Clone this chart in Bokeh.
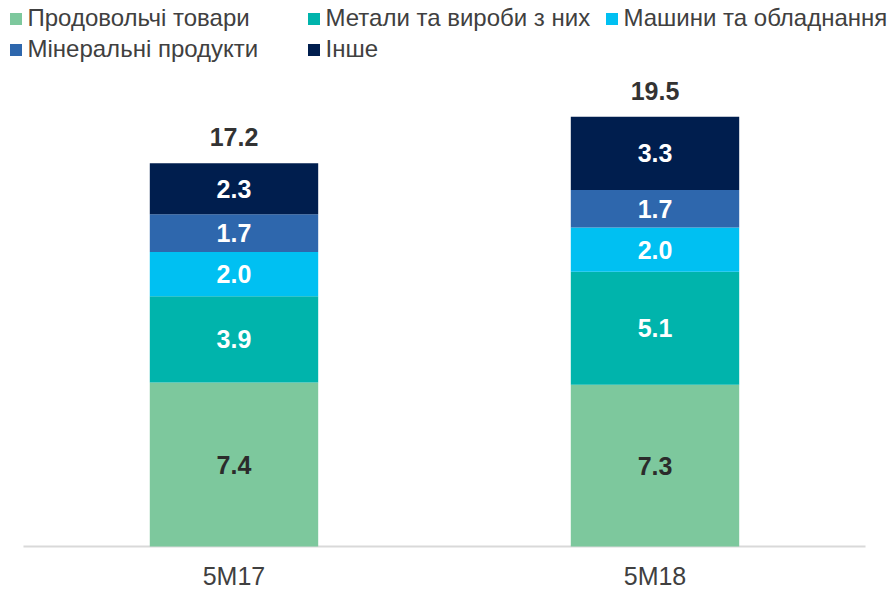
from bokeh.plotting import figure
from bokeh.models import ColumnDataSource, FactorRange, Range1d, Legend, LegendItem
from bokeh.core.properties import value
from bokeh.embed import file_html
from bokeh.resources import INLINE

categories = ["5M17", "5M18"]
series_names = ["Продовольчі товари", "Метали та вироби з них", "Машини та обладнання",
                "Мінеральні продукти", "Інше"]
food = [7.4, 7.3]
metals = [3.9, 5.1]
machines = [2.0, 2.0]
minerals = [1.7, 1.7]
other = [2.3, 3.3]
totals = [17.2, 19.5]

colors = ["#7DC89D", "#00B4AC", "#00C0F2", "#2E67AD", "#001E4E"]
label_colors = ["#2B2B2B", "#FFFFFF", "#FFFFFF", "#FFFFFF", "#FFFFFF"]
keys = ["food", "metals", "machines", "minerals", "other"]
series = [food, metals, machines, minerals, other]

FONT = "Liberation Sans"

data = dict(cat=categories)
for k, s in zip(keys, series):
    data[k] = s
source = ColumnDataSource(data)

p = figure(x_range=FactorRange(factors=categories, range_padding=0.0546,
                               range_padding_units="absolute"),
           y_range=Range1d(-1.986, 24.65),
           width=888, height=590, output_backend="svg", toolbar_location=None,
           min_border_left=0, min_border_right=0, min_border_top=0, min_border_bottom=0)
p.outline_line_color = None
p.grid.grid_line_color = None
p.yaxis.visible = False
p.background_fill_color = None
p.border_fill_color = "white"

# baseline under the bars, spanning the category band
base_src = ColumnDataSource(dict(x0=[(categories[0], -0.5)], x1=[(categories[-1], 0.5)],
                                 y0=[0], y1=[0]))
p.segment(x0="x0", y0="y0", x1="x1", y1="y1", source=base_src,
          line_color="#D9D9D9", line_width=2)

renderers = p.vbar_stack(keys, x="cat", width=0.4, color=colors, line_color=None, source=source)

# segment labels
lx, ly, lt, lc = [], [], [], []
for i, c in enumerate(categories):
    base = 0.0
    for j, s in enumerate(series):
        lx.append(c)
        ly.append(base + s[i] / 2)
        lt.append(f"{s[i]:.1f}")
        lc.append(label_colors[j])
        base += s[i]
lab_src = ColumnDataSource(dict(x=lx, y=ly, t=lt, c=lc))
p.text(x="x", y="y", text="t", text_color="c", source=lab_src,
       text_font=value(FONT), text_font_style="bold", text_font_size="25px",
       text_align="center", text_baseline="middle")

# totals above the bars
tops = [sum(s[i] for s in series) for i in range(len(categories))]
tot_src = ColumnDataSource(dict(x=categories, y=tops, t=[f"{t:.1f}" for t in totals]))
p.text(x="x", y="y", text="t", source=tot_src, text_color="#333333",
       text_font=value(FONT), text_font_style="bold", text_font_size="25px",
       text_align="center", text_baseline="middle", y_offset=-26)

xa = p.xaxis[0]
xa.fixed_location = 0
xa.axis_line_color = None
xa.major_tick_line_color = None
xa.minor_tick_line_color = None
xa.major_tick_out = 0
xa.major_tick_in = 0
xa.major_label_text_font = FONT
xa.major_label_text_font_size = "25px"
xa.major_label_text_color = "#404040"
xa.major_label_standoff = 15

# legend: one small legend per entry, laid out like the original
positions = [(7.5, 558), (305.5, 558), (603.5, 558), (7.5, 527), (305.5, 527)]
for r, name, (lx0, ly0) in zip(renderers, series_names, positions):
    lg = Legend(items=[LegendItem(label=name, renderers=[r])], location=(lx0, ly0),
                padding=0, margin=0, spacing=0, border_line_color=None,
                background_fill_alpha=0, glyph_width=15, glyph_height=15,
                label_standoff=5, label_height=15,
                label_text_font=FONT, label_text_font_size="24px",
                label_text_color="#404040")
    p.add_layout(lg, "center")

open("out.html", "w").write(file_html(p, INLINE))
